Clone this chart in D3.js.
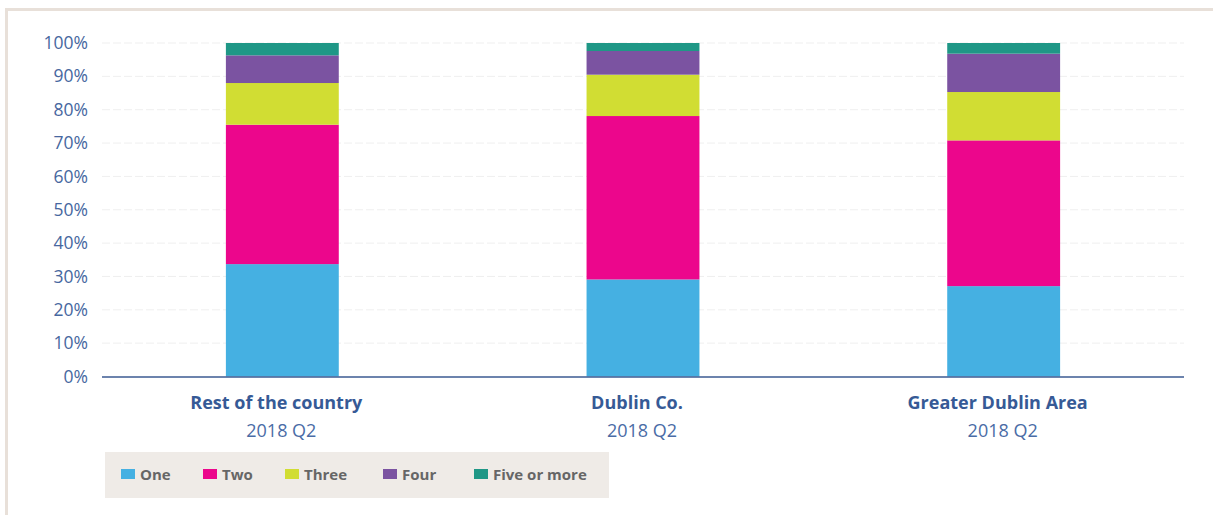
<!DOCTYPE html>
<html>
<head>
<meta charset="utf-8">
<script src="https://cdn.jsdelivr.net/npm/d3@7"></script>
<style>
body{margin:0;background:#fff;}
svg{display:block;}
</style>
</head>
<body>
<svg id="chart" width="1213" height="515"></svg>
<script>
const categories = ["Rest of the country", "Dublin Co.", "Greater Dublin Area"];
const periods = ["2018 Q2", "2018 Q2", "2018 Q2"];
const seriesNames = ["One", "Two", "Three", "Four", "Five or more"];
const one = [33.7, 29.1, 27.1];
const two = [41.8, 49.0, 43.7];
const three = [12.5, 12.4, 14.5];
const four = [8.3, 7.1, 11.5];
const five = [3.7, 2.4, 3.2];
const colors = ["#45b0e2", "#ec068c", "#d1dd33", "#7b53a1", "#1f9786"];
const yTicks = [0, 10, 20, 30, 40, 50, 60, 70, 80, 90, 100];

const seriesValues = [one, two, three, four, five];
const rows = categories.map((c, i) => {
  const r = {cat: c};
  seriesNames.forEach((s, j) => r[s] = seriesValues[j][i]);
  return r;
});

const svg = d3.select("#chart");
const mLeft = 102, mRight = 1184, mTop = 43, mBottom = 376.5;

// frame
svg.append("line").attr("x1", 6).attr("x2", 1213).attr("y1", 9.5).attr("y2", 9.5)
  .attr("stroke", "#e8e0d9").attr("stroke-width", 3);
svg.append("line").attr("x1", 6.5).attr("x2", 6.5).attr("y1", 8).attr("y2", 515)
  .attr("stroke", "#e8e0d9").attr("stroke-width", 3);

const x = d3.scaleBand().domain(categories).range([mLeft, mRight]).padding(0);
const y = d3.scaleLinear().domain([0, 100]).range([mBottom, mTop]);
const barW = x.bandwidth() * 0.313;

// grid
svg.append("g").selectAll("line").data(yTicks.filter(d => d > 0)).join("line")
  .attr("x1", mLeft).attr("x2", mRight)
  .attr("y1", d => y(d)).attr("y2", d => y(d))
  .attr("stroke", "#efefef").attr("stroke-width", 1)
  .attr("stroke-dasharray", "8,3");

// y axis labels
const yAxis = d3.axisLeft(y).tickValues(yTicks).tickFormat(d => d + "%").tickSize(0).tickPadding(0);
const yg = svg.append("g").attr("transform", `translate(${mLeft - 14},0)`).call(yAxis);
yg.select(".domain").remove();
yg.selectAll("text").attr("fill", "#4767a0").style("font-family", "'Open Sans', sans-serif")
  .style("font-size", "17.5px").style("font-weight", "400");

// stacked bars
const stack = d3.stack().keys(seriesNames)(rows);
svg.append("g").selectAll("g").data(stack).join("g")
  .attr("fill", (d, i) => colors[i])
  .selectAll("rect").data(d => d).join("rect")
  .attr("x", d => x(d.data.cat) + x.bandwidth() / 2 - barW / 2)
  .attr("width", barW)
  .attr("y", d => y(d[1]))
  .attr("height", d => y(d[0]) - y(d[1]));

// x axis line
svg.append("line").attr("x1", mLeft).attr("x2", mRight).attr("y1", mBottom + 0.5).attr("y2", mBottom + 0.5)
  .attr("stroke", "#3b5a92").attr("stroke-width", 1.5);

// category labels
const xg = svg.append("g");
xg.selectAll("text.cat").data(categories).join("text").attr("class", "cat")
  .attr("x", d => x(d) + x.bandwidth() / 2 - 6).attr("y", 409)
  .attr("text-anchor", "middle").attr("fill", "#365a96")
  .style("font-family", "'Open Sans', sans-serif").style("font-size", "18px").style("font-weight", "700")
  .text(d => d);
xg.selectAll("text.per").data(categories).join("text").attr("class", "per")
  .attr("x", d => x(d) + x.bandwidth() / 2 - 1).attr("y", 437)
  .attr("text-anchor", "middle").attr("fill", "#4a6ca6")
  .style("font-family", "'Open Sans', sans-serif").style("font-size", "18px").style("font-weight", "400")
  .text((d, i) => periods[i]);

// legend
const lg = svg.append("g");
lg.append("rect").attr("x", 105).attr("y", 452).attr("width", 504).attr("height", 46).attr("fill", "#efebe7");
const legX = [121, 203, 285, 383, 474];
const items = lg.selectAll("g.item").data(seriesNames).join("g").attr("class", "item")
  .attr("transform", (d, i) => `translate(${legX[i]},469)`);
items.append("rect").attr("width", 14).attr("height", 10).attr("fill", (d, i) => colors[i]);
items.append("text").attr("x", 19).attr("y", 10.5).attr("fill", "#666")
  .style("font-family", "'Open Sans', sans-serif").style("font-size", "15px").style("font-weight", "700")
  .text(d => d);
</script>
</body>
</html>
